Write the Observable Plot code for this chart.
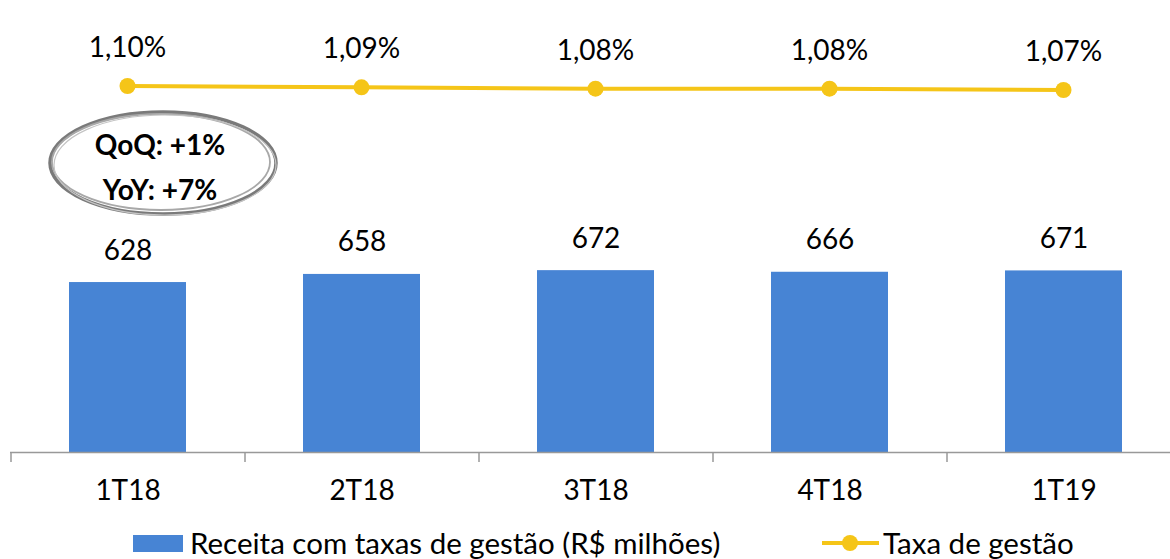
<!DOCTYPE html>
<html><head><meta charset="utf-8">
<script src="https://cdn.jsdelivr.net/npm/d3@7"></script>
<script src="https://cdn.jsdelivr.net/npm/@observablehq/plot@0.6"></script>
<style>
body{margin:0;background:#fff;font-family:Lato,"Open Sans",sans-serif;}
#wrap{position:relative;width:1170px;height:559px;overflow:hidden}
#wrap svg{position:absolute;left:0;top:0}
.leg{position:absolute;font-size:29.5px;color:#000;white-space:nowrap;line-height:1}
</style></head><body>
<div id="wrap"></div>
<script>
const quarters = ["1T18","2T18","3T18","4T18","1T19"];
const receita = [628,658,672,666,671];
const taxa = [1.10,1.09,1.08,1.08,1.07];
const taxaLabels = ["1,10%","1,09%","1,08%","1,08%","1,07%"];
const barLegend = "Receita com taxas de gestão (R$ milhões)";
const lineLegend = "Taxa de gestão";
const note = ["QoQ: +1%","YoY: +7%"];

const BLUE = "#4784D4", YELLOW = "#F5C518", GREY = "#999";
const FONT = "Lato, 'Open Sans', sans-serif";
const FS = 28;
const data = quarters.map((q,i)=>({q, r: receita[i], t: taxa[i], tl: taxaLabels[i]}));
const xOpts = {domain: quarters, range: [10, 1180], paddingInner: 0.5, paddingOuter: 0.25};

const bars = Plot.plot({
  width: 1170, height: 510,
  marginTop: 0, marginLeft: 0, marginRight: 0, marginBottom: 58,
  style: {fontFamily: FONT, fontSize: FS + "px", background: "transparent", overflow: "visible"},
  x: {...xOpts, label: null},
  y: {domain: [0, 1600], range: [452, 19], axis: null},
  marks: [
    Plot.barY(data, {x: "q", y: "r", fill: BLUE}),
    Plot.text(data, {x: "q", y: "r", text: d => String(d.r), dy: -32, fontSize: FS, fill: "#000"}),
    Plot.ruleY([0], {stroke: GREY, strokeWidth: 1.5, insetLeft: 10}),
    Plot.axisX({ticks: quarters, tickSize: 10, dx: -117, text: null, stroke: GREY, strokeWidth: 1.5}),
    Plot.axisX({ticks: quarters, tickSize: 0, tickPadding: 28, fontSize: FS, fill: "#000", label: null})
  ]
});

const line = Plot.plot({
  width: 1170, height: 510,
  marginTop: 0, marginLeft: 0, marginRight: 0, marginBottom: 58,
  style: {fontFamily: FONT, fontSize: FS + "px", background: "transparent", overflow: "visible"},
  x: {...xOpts, axis: null},
  y: {domain: [1.0, 1.2], range: [98.8, 72.2], axis: null},
  marks: [
    Plot.line(data, {x: "q", y: "t", stroke: YELLOW, strokeWidth: 4}),
    Plot.dot(data, {x: "q", y: "t", r: 8, fill: YELLOW, stroke: "none"}),
    Plot.text(data, {x: "q", y: "t", text: "tl", dy: -38, fontSize: FS, fill: "#000"})
  ]
});

const wrap = document.getElementById("wrap");
wrap.appendChild(bars);
wrap.appendChild(line);

// annotation ellipse
const svg = d3.select(line);
const g = svg.append("g");
g.append("ellipse").attr("cx",163).attr("cy",163).attr("rx",113).attr("ry",51)
  .attr("fill","none").attr("stroke","#7a7a7a").attr("stroke-width",3.5);
g.append("ellipse").attr("cx",161).attr("cy",162).attr("rx",109).attr("ry",48)
  .attr("fill","none").attr("stroke","#a8a8a8").attr("stroke-width",1.8);
g.append("ellipse").attr("cx",165).attr("cy",165).attr("rx",111).attr("ry",50)
  .attr("fill","none").attr("stroke","#c4c4c4").attr("stroke-width",1.2);
note.forEach((t,i)=>{
  g.append("text").attr("x",160).attr("y",155+i*45).attr("text-anchor","middle")
    .attr("font-family",FONT).attr("font-weight","bold").attr("font-size",28).attr("fill","#000").text(t);
});

// legend
const leg = d3.select(wrap);
leg.append("div").style("position","absolute").style("left","133px").style("top","535px")
  .style("width","50px").style("height","17px").style("background",BLUE);
leg.append("div").attr("class","leg").style("left","190px").style("top","528px").text(barLegend);
const ls = leg.append("svg").attr("width",60).attr("height",24)
  .style("left","821px").style("top","531px");
ls.append("line").attr("x1",1).attr("x2",58).attr("y1",12).attr("y2",12).attr("stroke",YELLOW).attr("stroke-width",4);
ls.append("circle").attr("cx",29).attr("cy",12).attr("r",8).attr("fill",YELLOW);
leg.append("div").attr("class","leg").style("left","883px").style("top","528px").text(lineLegend);
</script>
</body></html>
